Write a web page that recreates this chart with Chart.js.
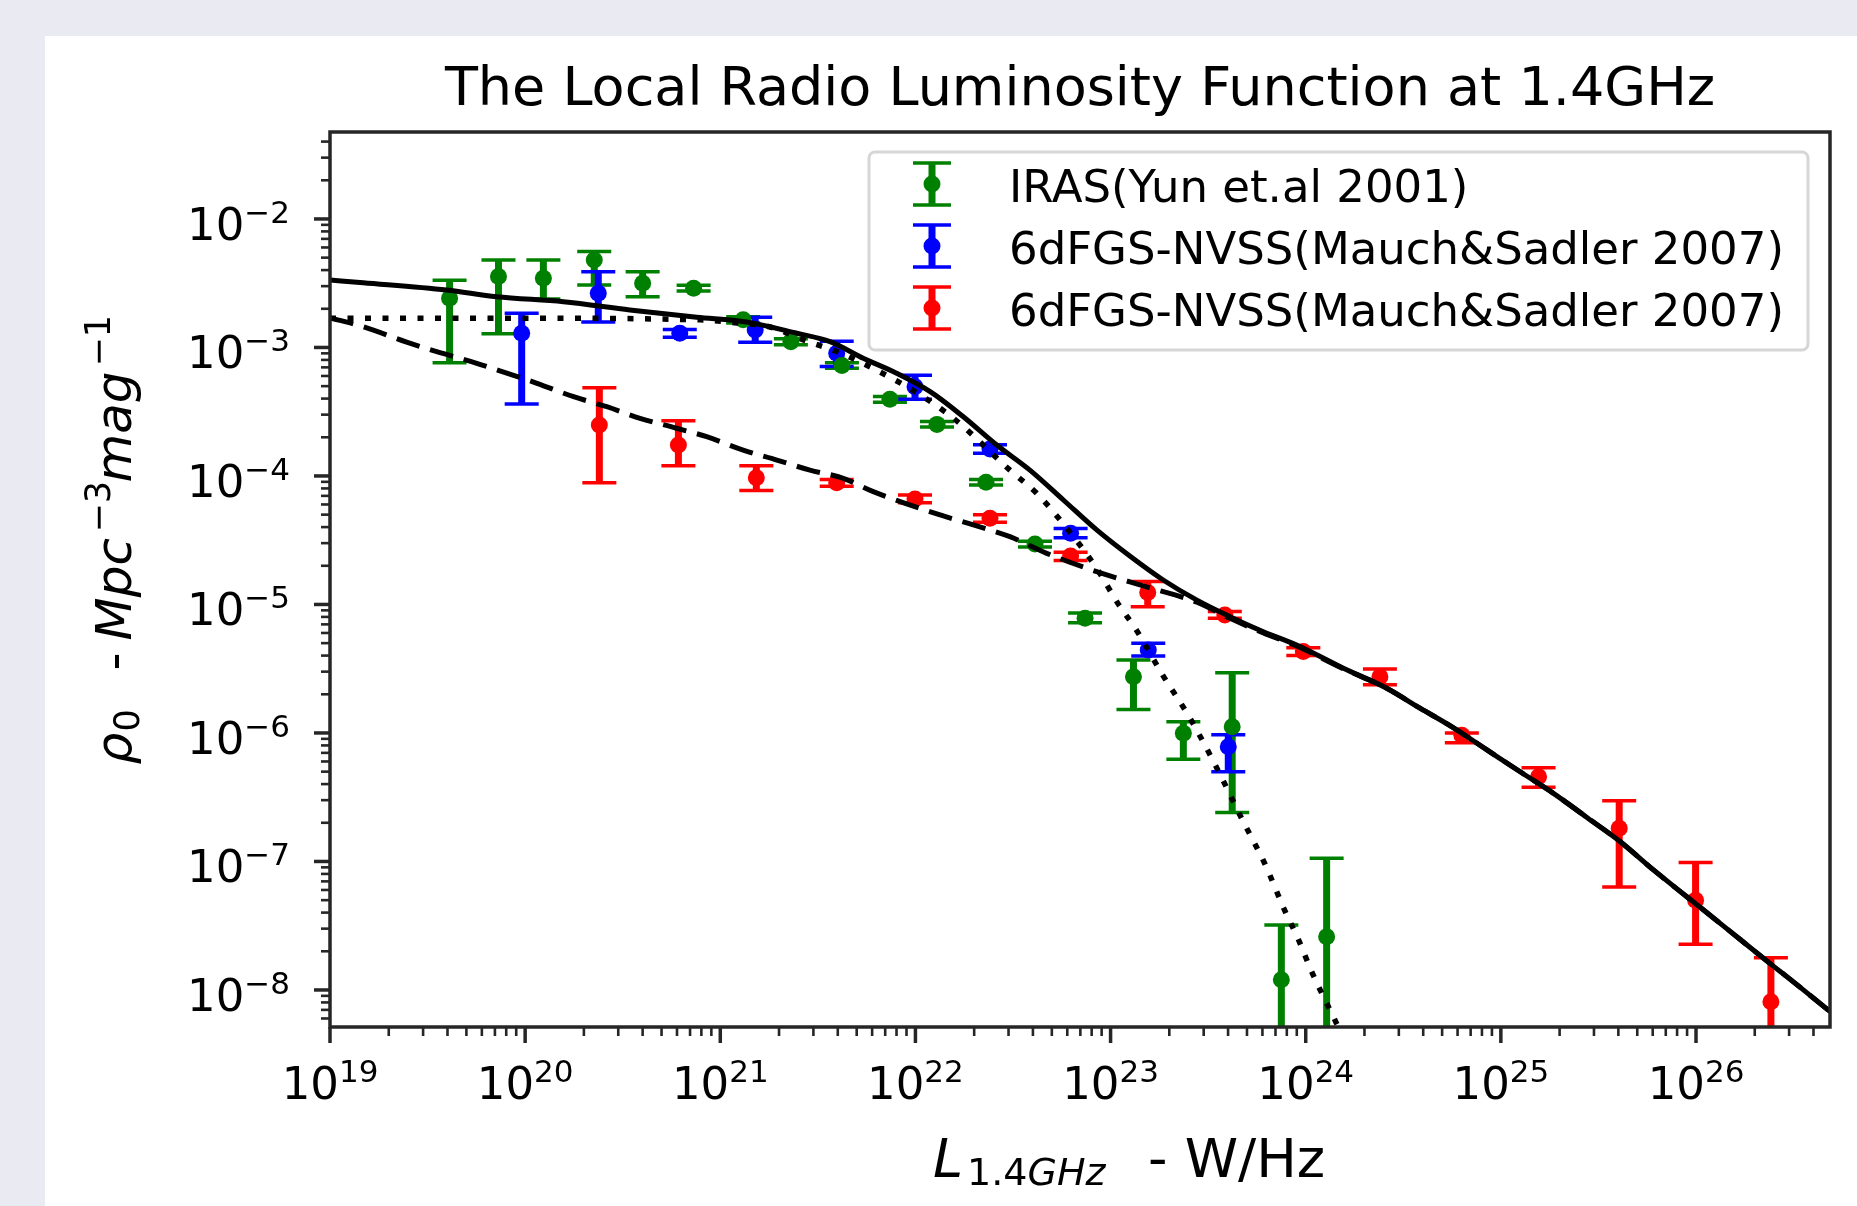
<!DOCTYPE html>
<html>
<head>
<meta charset="utf-8">
<title>The Local Radio Luminosity Function at 1.4GHz</title>
<script src="https://cdn.jsdelivr.net/npm/chart.js@4.4.1/dist/chart.umd.min.js"></script>
<style>
  html, body { margin: 0; padding: 0; background: #eaeaf2; }
  canvas { display: block; }
</style>
</head>
<body>
<canvas id="rlfChart" width="1857" height="1206"></canvas>
<script>
// ---- values (L in W/Hz, rho in Mpc^-3 mag^-1) ----

// IRAS (Yun et al. 2001) - green
const irasL   = [4.1e19, 7.3e19, 1.24e20, 2.26e20, 4.0e20, 7.3e20, 1.31e21, 2.3e21, 4.2e21, 7.4e21,
                 1.29e22, 2.3e22, 4.1e22, 7.4e22, 1.31e23, 2.36e23, 4.2e23, 7.5e23, 1.28e24];
const irasRho = [2.42e-3, 3.56e-3, 3.45e-3, 4.80e-3, 3.16e-3, 2.89e-3, 1.64e-3, 1.11e-3, 7.24e-4, 3.95e-4,
                 2.52e-4, 8.93e-5, 2.96e-5, 7.82e-6, 2.74e-6, 9.95e-7, 1.12e-6, 1.20e-8, 2.60e-8];
const irasLo  = [7.62e-4, 1.28e-3, 2.38e-3, 3.06e-3, 2.48e-3, 2.75e-3, 1.55e-3, 1.05e-3, 6.9e-4, 3.75e-4,
                 2.4e-4, 8.5e-5, 2.8e-5, 7.2e-6, 1.52e-6, 6.24e-7, 2.40e-7, 1e-9, 1e-9];
const irasHi  = [3.33e-3, 4.80e-3, 4.80e-3, 5.57e-3, 3.89e-3, 3.05e-3, 1.73e-3, 1.17e-3, 7.6e-4, 4.15e-4,
                 2.65e-4, 9.4e-5, 3.1e-5, 8.6e-6, 3.70e-6, 1.22e-6, 2.94e-6, 3.21e-8, 1.06e-7];

// 6dFGS-NVSS star-forming - blue
const sfL   = [9.6e19, 2.37e20, 6.2e20, 1.51e21, 3.95e21, 9.95e21, 2.41e22, 6.24e22, 1.56e23, 4.01e23];
const sfRho = [1.29e-3, 2.64e-3, 1.29e-3, 1.37e-3, 9.0e-4, 4.95e-4, 1.62e-4, 3.58e-5, 4.43e-6, 7.82e-7];
const sfLo  = [3.63e-4, 1.58e-3, 1.2e-3, 1.10e-3, 7.10e-4, 3.95e-4, 1.5e-4, 3.3e-5, 3.98e-6, 5.0e-7];
const sfHi  = [1.85e-3, 3.89e-3, 1.38e-3, 1.72e-3, 1.12e-3, 6.08e-4, 1.75e-4, 3.9e-5, 4.99e-6, 9.7e-7];

// 6dFGS-NVSS AGN - red
const agnL   = [2.40e20, 6.10e20, 1.53e21, 3.95e21, 9.95e21, 2.41e22, 6.24e22, 1.55e23, 3.85e23, 9.72e23,
                2.40e24, 6.31e24, 1.56e25, 4.04e25, 9.95e25, 2.42e26];
const agnRho = [2.49e-4, 1.74e-4, 9.7e-5, 8.87e-5, 6.62e-5, 4.69e-5, 2.38e-5, 1.24e-5, 8.28e-6, 4.30e-6,
                2.74e-6, 9.6e-7, 4.57e-7, 1.81e-7, 5.0e-8, 8.1e-9];
const agnLo  = [8.87e-5, 1.20e-4, 7.69e-5, 8.3e-5, 6.2e-5, 4.37e-5, 2.2e-5, 9.6e-6, 7.8e-6, 4.0e-6,
                2.37e-6, 8.4e-7, 3.78e-7, 6.34e-8, 2.27e-8, 1e-9];
const agnHi  = [4.86e-4, 2.69e-4, 1.20e-4, 9.4e-5, 7.1e-5, 5.0e-5, 2.55e-5, 1.51e-5, 8.8e-6, 4.61e-6,
                3.15e-6, 1.0e-6, 5.37e-7, 2.97e-7, 9.8e-8, 1.78e-8];

// fitted curves, traced point by point
const totalCurveL   = [1e19, 1.48e19, 3.96e19, 7.14e19, 1.57e20, 3.44e20, 7.57e20, 1.36e21, 2.47e21, 3.65e21,
                       5.40e21, 8.0e21, 1.19e22, 1.76e22, 2.61e22, 3.86e22, 5.73e22, 8.49e22, 1.26e23, 1.86e23,
                       2.77e23, 4.09e23, 6.07e23, 8.99e23, 1.56e24, 2.60e24, 3.85e24, 5.70e24, 8.45e24, 1.25e25,
                       1.86e25, 2.75e25, 4.08e25, 6.05e25, 8.97e25, 1.33e26, 2.39e26, 2.92e26, 4.86e26];
const totalCurveRho = [3.35e-3, 3.19e-3, 2.80e-3, 2.48e-3, 2.27e-3, 1.96e-3, 1.72e-3, 1.58e-3, 1.29e-3, 1.11e-3,
                       8.24e-4, 6.31e-4, 4.53e-4, 2.89e-4, 1.74e-4, 1.11e-4, 6.50e-5, 3.80e-5, 2.37e-5, 1.55e-5,
                       1.08e-5, 8.04e-6, 6.14e-6, 4.84e-6, 3.19e-6, 2.23e-6, 1.56e-6, 1.10e-6, 7.41e-7, 5.01e-7,
                       3.39e-7, 2.21e-7, 1.43e-7, 8.59e-8, 5.32e-8, 3.30e-8, 1.61e-8, 1.27e-8, 6.8e-9];

const sfCurveL   = [1e19, 7.43e19, 7.87e20, 1.22e21, 1.78e21, 2.69e21, 4.57e21, 1.45e22, 3.05e22, 4.18e22,
                    5.51e22, 8.49e22, 1.09e23, 1.36e23, 1.85e23, 2.51e23, 3.39e23, 4.78e23, 6.19e23, 7.74e23,
                    9.25e23, 1.07e24, 1.27e24, 1.38e24, 1.51e24];
const sfCurveRho = [1.69e-3, 1.69e-3, 1.64e-3, 1.55e-3, 1.45e-3, 1.14e-3, 8.47e-4, 3.08e-4, 1.11e-4, 7.33e-5,
                    4.55e-5, 1.91e-5, 1.02e-5, 6.28e-6, 2.82e-6, 1.36e-6, 5.89e-7, 2.05e-7, 9.51e-8, 4.28e-8,
                    2.40e-8, 1.40e-8, 8.09e-9, 6.28e-9, 4.68e-9];

const agnCurveL   = [1e19, 1.48e19, 2.47e19, 3.52e19, 5.65e19, 8.05e19, 1.15e20, 1.77e20, 2.62e20, 3.88e20,
                     5.98e20, 8.51e20, 1.31e21, 1.95e21, 2.88e21, 4.27e21, 6.08e21, 1.34e22, 1.98e22, 3.05e22,
                     4.71e22, 8.49e22, 1.53e23, 2.77e23, 4.09e23, 6.07e23, 8.99e23, 1.56e24, 2.60e24, 3.85e24,
                     5.70e24, 8.45e24, 1.25e25, 1.86e25, 2.75e25, 4.08e25, 6.05e25, 8.97e25, 1.33e26, 2.39e26,
                     2.92e26, 4.86e26];
const agnCurveRho = [1.70e-3, 1.45e-3, 1.10e-3, 9.27e-4, 7.53e-4, 6.31e-4, 5.26e-4, 4.14e-4, 3.46e-4, 2.81e-4,
                     2.35e-4, 2.02e-4, 1.59e-4, 1.33e-4, 1.11e-4, 9.59e-5, 7.55e-5, 4.97e-5, 4.16e-5, 3.37e-5,
                     2.50e-5, 1.80e-5, 1.37e-5, 1.04e-5, 7.8e-6, 6.0e-6, 4.75e-6, 3.16e-6, 2.23e-6, 1.56e-6,
                     1.10e-6, 7.41e-7, 5.01e-7, 3.39e-7, 2.21e-7, 1.43e-7, 8.59e-8, 5.32e-8, 3.30e-8, 1.61e-8,
                     1.27e-8, 6.8e-9];

// axis ticks
const xTicks    = [1e19, 1e20, 1e21, 1e22, 1e23, 1e24, 1e25, 1e26];
const xTickSups = ['19', '20', '21', '22', '23', '24', '25', '26'];
const yTicks    = [1e-2, 1e-3, 1e-4, 1e-5, 1e-6, 1e-7, 1e-8];
const yTickSups = ['\u22122', '\u22123', '\u22124', '\u22125', '\u22126', '\u22127', '\u22128'];

const FONT = '"DejaVu Sans", sans-serif';
const font = (size, italic) => (italic ? 'italic ' : '') + size + 'px ' + FONT;

const toPoints = (xs, ys) => xs.map((v, i) => ({ x: v, y: ys[i] }));

// page background: grey frame and white figure
const figureBg = {
    id: 'figureBg',
    beforeDraw(chart) {
        const ctx = chart.ctx;
        ctx.save();
        ctx.fillStyle = '#eaeaf2';
        ctx.fillRect(0, 0, chart.width, chart.height);
        ctx.fillStyle = '#ffffff';
        ctx.fillRect(45, 36, chart.width - 45, chart.height - 36);
        ctx.restore();
    }
};

// vertical error bars with caps, under the markers
const errorBars = {
    id: 'errorBars',
    beforeDatasetsDraw(chart) {
        const { ctx, chartArea: a, scales: { x, y } } = chart;
        ctx.save();
        ctx.beginPath();
        ctx.rect(a.left, a.top, a.right - a.left, a.bottom - a.top);
        ctx.clip();
        ctx.lineCap = 'butt';
        chart.data.datasets.forEach(ds => {
            if (!ds.errLo) return;
            ctx.strokeStyle = ds.backgroundColor;
            ds.data.forEach((p, i) => {
                const px = x.getPixelForValue(p.x);
                const yl = y.getPixelForValue(ds.errLo[i]);
                const yh = y.getPixelForValue(ds.errHi[i]);
                ctx.lineWidth = 7;
                ctx.beginPath();
                ctx.moveTo(px, yl);
                ctx.lineTo(px, yh);
                ctx.stroke();
                ctx.lineWidth = 3.5;
                [yl, yh].forEach(yy => {
                    ctx.beginPath();
                    ctx.moveTo(px - 17, yy);
                    ctx.lineTo(px + 17, yy);
                    ctx.stroke();
                });
            });
        });
        ctx.restore();
    }
};

// matplotlib style frame, ticks, labels, title and legend
const mplAxes = {
    id: 'mplAxes',
    afterDraw(chart) {
        const { ctx, chartArea: a, scales: { x, y } } = chart;
        ctx.save();

        // minor + major ticks
        ctx.strokeStyle = '#262626';
        ctx.lineCap = 'butt';
        for (let e = 18; e <= 27; e++) {
            for (let k = 1; k <= 9; k++) {
                const v = k * Math.pow(10, e);
                if (v < x.min * 0.999 || v > x.max) continue;
                const px = x.getPixelForValue(v);
                const major = k === 1;
                ctx.lineWidth = major ? 3.5 : 2.6;
                ctx.beginPath();
                ctx.moveTo(px, a.bottom);
                ctx.lineTo(px, a.bottom + (major ? 16 : 9));
                ctx.stroke();
            }
        }
        for (let e = -10; e <= -1; e++) {
            for (let k = 1; k <= 9; k++) {
                const v = k * Math.pow(10, e);
                if (v < y.min || v > y.max) continue;
                const py = y.getPixelForValue(v);
                const major = k === 1;
                ctx.lineWidth = major ? 3.5 : 2.6;
                ctx.beginPath();
                ctx.moveTo(a.left, py);
                ctx.lineTo(a.left - (major ? 16 : 9), py);
                ctx.stroke();
            }
        }

        // spines
        ctx.lineWidth = 3.5;
        ctx.strokeRect(a.left, a.top, a.right - a.left, a.bottom - a.top);

        // tick labels 10^n
        ctx.fillStyle = '#000';
        ctx.textBaseline = 'alphabetic';
        ctx.textAlign = 'left';
        xTicks.forEach((v, i) => {
            const px = x.getPixelForValue(v);
            ctx.font = font(45);
            const wb = ctx.measureText('10').width;
            ctx.font = font(31);
            const ws = ctx.measureText(xTickSups[i]).width;
            const x0 = px - (wb + ws) / 2;
            const base = a.bottom + 72;
            ctx.font = font(45);
            ctx.fillText('10', x0, base);
            ctx.font = font(31);
            ctx.fillText(xTickSups[i], x0 + wb, base - 17);
        });
        yTicks.forEach((v, i) => {
            const py = y.getPixelForValue(v);
            ctx.font = font(45);
            const wb = ctx.measureText('10').width;
            ctx.font = font(31);
            const ws = ctx.measureText(yTickSups[i]).width;
            const x0 = a.left - 40 - wb - ws;
            const base = py + 21;
            ctx.font = font(45);
            ctx.fillText('10', x0, base);
            ctx.font = font(31);
            ctx.fillText(yTickSups[i], x0 + wb, base - 17);
        });

        // title
        ctx.font = font(54);
        ctx.textAlign = 'center';
        ctx.fillText('The Local Radio Luminosity Function at 1.4GHz', (a.left + a.right) / 2, a.top - 27);
        ctx.textAlign = 'left';

        // x axis label: L_{1.4GHz}  - W/Hz
        const cx = (a.left + a.right) / 2;
        let xx = cx - 147;
        const xb = a.bottom + 150;
        ctx.font = font(54, true);
        ctx.fillText('L', xx, xb);
        xx += ctx.measureText('L').width + 4;
        ctx.font = font(38);
        ctx.fillText('1.4', xx, xb + 8);
        xx += ctx.measureText('1.4').width;
        ctx.font = font(38, true);
        ctx.fillText('GHz', xx, xb + 8);
        ctx.font = font(54);
        ctx.fillText('- W/Hz', cx + 68, xb);

        // y axis label: rho_0  - Mpc^{-3} mag^{-1}, read bottom to top
        ctx.save();
        ctx.translate(131, (a.top + a.bottom) / 2 + 185);
        ctx.rotate(-Math.PI / 2);
        ctx.font = font(50, true);
        ctx.fillText('\u03c1', 0, 0);
        ctx.font = font(35);
        ctx.fillText('0', 33, 8);
        ctx.font = font(50);
        ctx.fillText('-', 94, 0);
        ctx.font = font(50, true);
        ctx.fillText('Mpc', 124, 0);
        ctx.font = font(35);
        ctx.fillText('\u22123', 232, -21);
        ctx.font = font(50, true);
        ctx.fillText('mag', 282, 0);
        ctx.font = font(35);
        ctx.fillText('\u22121', 398, -21);
        ctx.restore();

        // legend
        const lx = a.right - 22 - 939, ly = a.top + 20, lw = 939, lh = 198;
        ctx.beginPath();
        ctx.roundRect(lx, ly, lw, lh, 6);
        ctx.fillStyle = 'rgba(255,255,255,0.8)';
        ctx.fill();
        ctx.lineWidth = 3;
        ctx.strokeStyle = '#d6d6d6';
        ctx.stroke();
        const markerSets = chart.data.datasets.filter(ds => ds.errLo);
        markerSets.forEach((ds, i) => {
            const ry = ly + 32 + i * 62;
            const ix = lx + 63;
            ctx.strokeStyle = ds.backgroundColor;
            ctx.lineWidth = 7;
            ctx.beginPath();
            ctx.moveTo(ix, ry - 21);
            ctx.lineTo(ix, ry + 21);
            ctx.stroke();
            ctx.lineWidth = 3.5;
            [ry - 21, ry + 21].forEach(yy => {
                ctx.beginPath();
                ctx.moveTo(ix - 19, yy);
                ctx.lineTo(ix + 19, yy);
                ctx.stroke();
            });
            ctx.fillStyle = ds.backgroundColor;
            ctx.beginPath();
            ctx.arc(ix, ry, 8.5, 0, Math.PI * 2);
            ctx.fill();
            ctx.fillStyle = '#000';
            ctx.font = font(45);
            ctx.fillText(ds.label, lx + 140, ry + 18);
        });

        ctx.restore();
    }
};

const curveStyle = {
    type: 'line',
    pointRadius: 0,
    borderColor: '#000000',
    backgroundColor: '#000000',
    fill: false,
    cubicInterpolationMode: 'monotone',
    borderCapStyle: 'butt',
    order: 0
};

const markerStyle = (color) => ({
    type: 'scatter',
    backgroundColor: color,
    borderColor: color,
    pointRadius: 8.5,
    pointBorderWidth: 0,
    pointBackgroundColor: color,
    order: 1
});

new Chart(document.getElementById('rlfChart'), {
    type: 'scatter',
    data: {
        datasets: [
            Object.assign(markerStyle('#008000'), {
                label: 'IRAS(Yun et.al 2001)',
                data: toPoints(irasL, irasRho), errLo: irasLo, errHi: irasHi
            }),
            Object.assign(markerStyle('#0000ff'), {
                label: '6dFGS-NVSS(Mauch&Sadler 2007)',
                data: toPoints(sfL, sfRho), errLo: sfLo, errHi: sfHi
            }),
            Object.assign(markerStyle('#ff0000'), {
                label: '6dFGS-NVSS(Mauch&Sadler 2007)',
                data: toPoints(agnL, agnRho), errLo: agnLo, errHi: agnHi
            }),
            Object.assign({}, curveStyle, {
                label: 'total', data: toPoints(totalCurveL, totalCurveRho), borderWidth: 5
            }),
            Object.assign({}, curveStyle, {
                label: 'star-forming', data: toPoints(sfCurveL, sfCurveRho), borderWidth: 5.5, borderDash: [6, 11.5]
            }),
            Object.assign({}, curveStyle, {
                label: 'AGN', data: toPoints(agnCurveL, agnCurveRho), borderWidth: 5, borderDash: [24, 11]
            })
        ]
    },
    options: {
        responsive: false,
        animation: false,
        layout: {
            padding: { left: 330, right: 27, top: 132, bottom: 179 }
        },
        scales: {
            x: {
                type: 'logarithmic',
                display: false,
                min: 1e19,
                max: 4.86e26
            },
            y: {
                type: 'logarithmic',
                display: false,
                min: 5.15e-9,
                max: 4.75e-2
            }
        },
        plugins: {
            legend: { display: false },
            tooltip: { enabled: false },
            title: { display: false }
        }
    },
    plugins: [figureBg, errorBars, mplAxes]
});
</script>
</body>
</html>
